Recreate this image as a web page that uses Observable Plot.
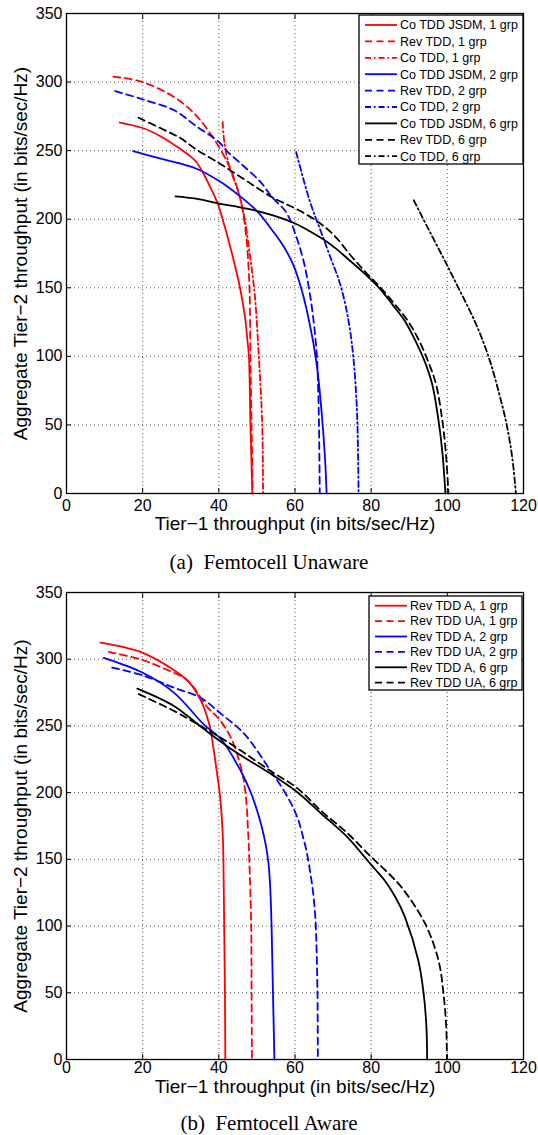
<!DOCTYPE html>
<html><head><meta charset="utf-8">
<script src="https://cdn.jsdelivr.net/npm/d3@7"></script>
<script src="https://cdn.jsdelivr.net/npm/@observablehq/plot@0.6"></script>
<style>
body{margin:0;background:#fff;}
#wrap{position:relative;width:538px;height:1135px;overflow:hidden;}
#wrap svg{position:absolute;left:0;}
.cap{position:absolute;left:0;width:538px;text-align:center;font-family:"Liberation Serif","Times New Roman",serif;font-size:21px;line-height:24px;white-space:pre;color:#000;}
</style></head><body><div id="wrap"></div>
<script>
// ---------- tick values & labels ----------
const xTicks = [0, 20, 40, 60, 80, 100, 120];
const yTicks = [0, 50, 100, 150, 200, 250, 300, 350];
const xLabel = "Tier\u22121 throughput (in bits/sec/Hz)";
const yLabel = "Aggregate Tier\u22122 throughput (in bits/sec/Hz)";
const captionA = "(a)  Femtocell Unaware";
const captionB = "(b)  Femtocell Aware";

// ---------- (a) Femtocell Unaware : [tier1, tier2] ----------
const aCoJsdm1 = [[14,270.5],[20,266.5],[25,260],[30,251],[32,247],[34.1,241.7],[36,233],[38,222],[39.7,211.4],[41.2,198],[42.6,184],[43.9,170],[45.1,156],[46.1,142],[46.9,128],[47.5,112],[47.9,100],[48.3,50],[48.8,0]];
const aRev1 = [[12.3,304],[20,300],[28.3,289],[33.6,277],[37.5,263.5],[40.6,250],[43.2,235.6],[45.7,214],[47.1,190],[47.8,165],[48.1,145],[48.3,100],[48.6,50],[48.9,0]];
const aCo1 = [[41,270.8],[41.5,255],[42.8,238],[45,221],[46.7,201.6],[48,177],[49.4,146],[50.5,100],[51.4,50],[51.6,0]];
const aCoJsdm2 = [[17.5,249.7],[25,244],[30,240.5],[34,237],[40,228],[45,218],[50,206],[54,192],[56,184.5],[58,175.5],[59.5,167],[60.7,158],[61.8,148],[62.9,136],[63.9,123],[64.8,110],[65.6,96],[66.3,80],[66.9,62],[67.4,45],[67.9,25],[68.3,0]];
const aRev2 = [[12.8,293.4],[20,287.4],[28.3,279.4],[34,268],[40,256.3],[42.4,249],[46,240],[51,227],[54,216],[57.3,206.5],[58.8,199],[60,190],[61.2,180],[62.3,169],[63.2,157],[64,144],[64.7,130],[65.3,115],[65.8,98],[66.1,75],[66.3,50],[66.5,0]];
const aCo2 = [[60.3,249],[63.8,214],[66.8,191],[69.6,170],[71.6,155],[73.2,138],[74.4,120],[75.3,100],[76,75],[76.4,50],[76.7,0]];
const aCoJsdm6 = [[28.6,216.7],[34,215],[40,211.4],[45,209],[49.4,206.5],[54,203],[57.7,199.5],[60.3,196.5],[64,191],[67.8,184.6],[71,178],[73.9,171],[78,161],[82.7,148],[85.8,137],[88.8,126],[91.5,112],[94.1,96],[96,80],[97.6,55],[98.7,30],[99.5,0]];
const aRev6 = [[18.9,274],[25,266],[30,259],[34,251],[40,241],[45,232],[50,223],[54,216],[57.7,211],[60.3,207.5],[65,200],[70,189],[74.8,173],[78.5,161.5],[82.5,150],[86.5,137],[89.6,126],[92.5,112],[95,96],[97,80],[98.6,55],[99.6,30],[100.3,0]];
const aCo6 = [[91.2,213.8],[95,193],[99.1,171],[102.9,150],[107.3,125],[110.8,100],[113.4,75],[115.6,50],[117.1,25],[118,0]];

// ---------- (b) Femtocell Aware ----------
const bRevA1 = [[8.9,312.4],[15,309],[19.9,305],[26.5,295],[31.8,284],[35.3,269],[37.5,251],[38.5,235],[39.5,215],[40.4,195],[41,170],[41.2,150],[41.4,100],[41.6,50],[41.7,0]];
const bRevUA1 = [[11.1,305.5],[19.9,299.5],[25.6,293],[31.8,284],[37,264],[40.1,255],[43.2,241],[45.8,219],[47,200],[47.7,170],[48,150],[48.5,100],[48.6,50],[48.7,0]];
const bRevA2 = [[9.8,301],[19.9,290],[28.2,275],[36.1,251],[40.6,240],[45.8,216],[48.4,200],[50,187],[51.3,174],[52.3,161],[53,148],[53.4,134],[53.65,118],[53.85,100],[54.2,51.7],[54.6,0]];
const bRevUA2 = [[12,293.7],[19.9,288],[28.2,278.7],[35.3,271],[40.6,259],[46.7,244],[53.7,216],[55.5,208.5],[57.5,199.5],[59.3,190],[60.8,180],[62,168],[63,156.5],[63.9,142],[64.7,126.5],[65.3,108],[65.6,89],[65.9,50],[66,0]];
const bRevA6 = [[18.6,278],[28.2,265],[36.1,247.6],[44.1,231],[53.7,214],[60.3,201],[67,184],[74,166],[78.8,150],[81.2,142],[83.6,134],[86.5,121],[88.9,106.5],[92.4,74],[93.8,49],[94.5,25],[94.7,0]];
const bRevUA6 = [[19,273.8],[28.2,261.3],[34.4,251.3],[40,242],[45,233],[53.7,216],[60.3,204],[67,186],[74,169],[80.1,151.5],[84,141],[88,129],[94.2,101.6],[97.7,74],[99,49],[99.7,25],[99.9,0]];

// ---------- series definitions ----------
const SOLID = null, DASH = "7,4.5", DASHDOT = "6,3,1.5,3";
const seriesA = [
  {name: "Co TDD JSDM, 1 grp", data: aCoJsdm1, color: "#ff0000", dash: SOLID},
  {name: "Rev TDD, 1 grp", data: aRev1, color: "#ff0000", dash: DASH},
  {name: "Co TDD, 1 grp", data: aCo1, color: "#ff0000", dash: DASHDOT},
  {name: "Co TDD JSDM, 2 grp", data: aCoJsdm2, color: "#0000ff", dash: SOLID},
  {name: "Rev TDD, 2 grp", data: aRev2, color: "#0000ff", dash: DASH},
  {name: "Co TDD, 2 grp", data: aCo2, color: "#0000ff", dash: DASHDOT},
  {name: "Co TDD JSDM, 6 grp", data: aCoJsdm6, color: "#000000", dash: SOLID},
  {name: "Rev TDD, 6 grp", data: aRev6, color: "#000000", dash: DASH},
  {name: "Co TDD, 6 grp", data: aCo6, color: "#000000", dash: DASHDOT}
];
const seriesB = [
  {name: "Rev TDD A, 1 grp", data: bRevA1, color: "#ff0000", dash: SOLID},
  {name: "Rev TDD UA, 1 grp", data: bRevUA1, color: "#ff0000", dash: DASH},
  {name: "Rev TDD A, 2 grp", data: bRevA2, color: "#0000ff", dash: SOLID},
  {name: "Rev TDD UA, 2 grp", data: bRevUA2, color: "#0000ff", dash: DASH},
  {name: "Rev TDD A, 6 grp", data: bRevA6, color: "#000000", dash: SOLID},
  {name: "Rev TDD UA, 6 grp", data: bRevUA6, color: "#000000", dash: DASH}
];

const FONT = "'Liberation Sans', Arial, Helvetica, sans-serif";

function makePlot(series, {height, marginTop, marginBottom, xLabelDy, tickPad, legend}) {
  const svg = Plot.plot({
    width: 538, height,
    marginLeft: 66, marginRight: 15, marginTop, marginBottom,
    style: {fontFamily: FONT, background: "white", color: "black", overflow: "visible"},
    x: {domain: [0, 120]},
    y: {domain: [0, 350]},
    marks: [
      Plot.gridX(xTicks, {stroke: "#555", strokeOpacity: 1, strokeDasharray: "1,3"}),
      Plot.gridY(yTicks, {stroke: "#555", strokeOpacity: 1, strokeDasharray: "1,3"}),
      ...series.map(s => Plot.line(s.data, {
        x: d => d[0], y: d => d[1], stroke: s.color, strokeWidth: 1.8,
        strokeDasharray: s.dash, curve: "catmull-rom"
      })),
      Plot.axisX(xTicks, {anchor: "bottom", tickSize: 0, tickPadding: tickPad, fontSize: 16, label: null}),
      Plot.axisY(yTicks, {anchor: "left", tickSize: 0, tickPadding: 4, fontSize: 16, label: null}),
      Plot.axisX(xTicks, {anchor: "bottom", tickSize: -5, tickFormat: () => "", label: null}),
      Plot.axisX(xTicks, {anchor: "top", tickSize: -5, tickFormat: () => "", label: null}),
      Plot.axisY(yTicks, {anchor: "left", tickSize: -5, tickFormat: () => "", label: null}),
      Plot.axisY(yTicks, {anchor: "right", tickSize: -5, tickFormat: () => "", label: null}),
      Plot.frame({stroke: "black", strokeWidth: 1.3}),
      Plot.text([xLabel], {text: d => d, frameAnchor: "bottom", dy: xLabelDy, fontSize: 19, fill: "black", textAnchor: "middle"}),
      Plot.text([yLabel], {text: d => d, frameAnchor: "left", dx: -46, rotate: -90, fontSize: 19, fill: "black", textAnchor: "middle"})
    ]
  });
  // legend box
  const g = d3.select(svg).append("g").attr("font-family", FONT).attr("font-size", legend.fontSize).attr("text-anchor", "start");
  g.append("rect").attr("x", legend.x).attr("y", legend.y).attr("width", legend.w).attr("height", legend.h)
    .attr("fill", "white").attr("stroke", "black").attr("stroke-width", 1.3);
  series.forEach((s, i) => {
    const cy = legend.y + legend.first + i * legend.step;
    g.append("line").attr("x1", legend.x + 6).attr("x2", legend.x + 38).attr("y1", cy).attr("y2", cy)
      .attr("stroke", s.color).attr("stroke-width", 1.8).attr("stroke-dasharray", s.dash);
    g.append("text").attr("x", legend.x + 41).attr("y", cy).attr("dy", "0.35em").attr("fill", "black")
      .attr("text-anchor", "start").text(s.name);
  });
  return svg;
}

const wrap = document.getElementById("wrap");
const svgA = makePlot(seriesA, {height: 545, marginTop: 13, marginBottom: 52, xLabelDy: 36, tickPad: 6,
  legend: {x: 359, y: 15, w: 164, h: 149, first: 10, step: 16.4, fontSize: 12.5}});
svgA.style.top = "0px";
wrap.appendChild(svgA);
const capA = document.createElement("div");
capA.className = "cap"; capA.style.top = "550px"; capA.textContent = captionA;
wrap.appendChild(capA);

const svgB = makePlot(seriesB, {height: 520, marginTop: 12, marginBottom: 41, xLabelDy: 33, tickPad: 2,
  legend: {x: 369, y: 16, w: 153, h: 94, first: 9.7, step: 15.4, fontSize: 12.5}});
svgB.style.top = "580px";
wrap.appendChild(svgB);
const capB = document.createElement("div");
capB.className = "cap"; capB.style.top = "1111px"; capB.textContent = captionB;
wrap.appendChild(capB);
</script>
</body></html>
